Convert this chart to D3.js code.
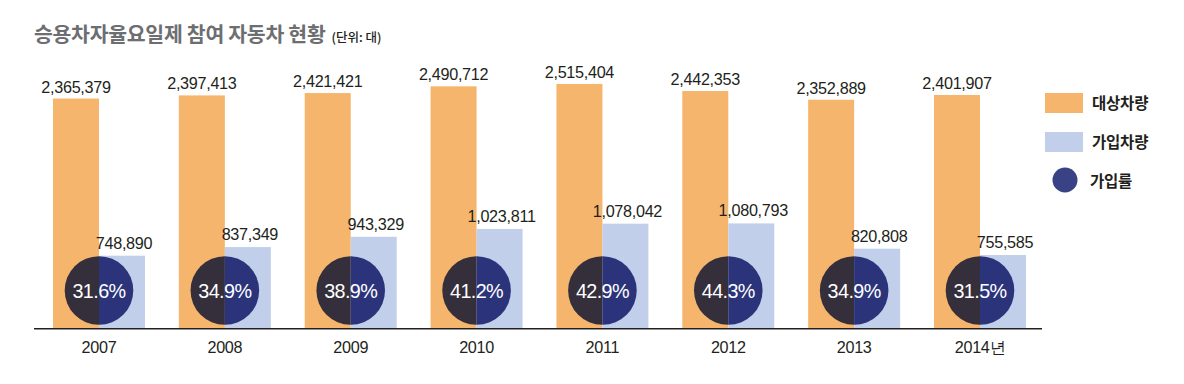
<!DOCTYPE html>
<html><head><meta charset="utf-8">
<script src="https://cdn.jsdelivr.net/npm/d3@7"></script>
<style>body{margin:0;background:#fff}svg{display:block}</style>
</head><body>
<svg id="c" width="1184" height="384"></svg>
<script>
const years = ["2007","2008","2009","2010","2011","2012","2013","2014"];
const yearLabels = ["2007","2008","2009","2010","2011","2012","2013","2014년"];
const targetVehicles = [2365379,2397413,2421421,2490712,2515404,2442353,2352889,2401907];
const joinedVehicles = [748890,837349,943329,1023811,1078042,1080793,820808,755585];
const joinRates = ["31.6%","34.9%","38.9%","41.2%","42.9%","44.3%","34.9%","31.5%"];
const seriesNames = ["대상차량","가입차량","가입률"];

const svg = d3.select("#c");
const numFont = "'Liberation Sans', Arial, sans-serif";
const krFont = "'Noto Sans CJK KR', sans-serif";
const C = {orange:"#f6b56c", blue:"#c2cfea", darkL:"#352e3b", darkR:"#2b347b", legendDot:"#3a4286", text:"#231f20"};

const x = d3.scalePoint().domain(years).range([99, 980]);
const sub = d3.scaleBand().domain(["t","j"]).range([-46, 46]).padding(0);
const y = d3.scaleLinear().domain([0, 2600000]).range([328.5, 75.7]);
const fmt = d3.format(",");

// title
const title = svg.append("text").attr("x",34).attr("y",42)
  .attr("font-family",krFont).attr("fill","#6d6e71");
title.append("tspan").attr("font-size",20.5).attr("font-weight",700).attr("letter-spacing",-0.3).text("승용차자율요일제 참여 자동차 현황");
title.append("tspan").attr("font-size",12.5).attr("font-weight",500).attr("dx",6).attr("fill","#231f20").text("(단위: 대)");

const g = svg.append("g");
years.forEach((yr,i)=>{
  const cx = x(yr);
  g.append("rect").attr("x",cx+sub("t")).attr("width",sub.bandwidth())
    .attr("y",y(targetVehicles[i])).attr("height",y(0)-y(targetVehicles[i])).attr("fill",C.orange);
  g.append("rect").attr("x",cx+sub("j")).attr("width",sub.bandwidth())
    .attr("y",y(joinedVehicles[i])).attr("height",y(0)-y(joinedVehicles[i])).attr("fill",C.blue);
  g.append("text").attr("x",cx+sub("t")+sub.bandwidth()/2).attr("y",y(targetVehicles[i])-6)
    .attr("text-anchor","middle").attr("font-family",numFont).attr("font-size",16.2).attr("letter-spacing",-0.3)
    .attr("fill",C.text).text(fmt(targetVehicles[i]));
  g.append("text").attr("x",cx+sub("j")+sub.bandwidth()/2+2).attr("y",y(joinedVehicles[i])-7)
    .attr("text-anchor","middle").attr("font-family",numFont).attr("font-size",16.2).attr("letter-spacing",-0.3)
    .attr("fill",C.text).text(fmt(joinedVehicles[i]));
  // circle halves
  const r = 34.3, cy = 290.5;
  const arc = d3.arc().innerRadius(0).outerRadius(r);
  g.append("path").attr("transform",`translate(${cx},${cy})`)
    .attr("d",arc({startAngle:Math.PI,endAngle:2*Math.PI})).attr("fill",C.darkL);
  g.append("path").attr("transform",`translate(${cx},${cy})`)
    .attr("d",arc({startAngle:0,endAngle:Math.PI})).attr("fill",C.darkR);
  g.append("text").attr("x",cx).attr("y",cy+7.5).attr("text-anchor","middle")
    .attr("font-family",numFont).attr("font-size",19.8).attr("letter-spacing",-0.6)
    .attr("fill","#fff").text(joinRates[i]);
  g.append("text").attr("x",cx).attr("y",352.5).attr("text-anchor","middle")
    .attr("font-family",numFont).attr("font-size",16.2).attr("letter-spacing",-0.3)
    .attr("fill",C.text).text(yearLabels[i]);
});

// baseline axis
svg.append("line").attr("x1",34).attr("x2",1042).attr("y1",328.8).attr("y2",328.8)
  .attr("stroke","#231f20").attr("stroke-width",1.5);

// legend
const lg = svg.append("g").attr("transform","translate(1045,93)");
lg.append("rect").attr("x",0).attr("y",0).attr("width",38).attr("height",20).attr("fill",C.orange);
lg.append("rect").attr("x",0).attr("y",39).attr("width",38).attr("height",20).attr("fill",C.blue);
lg.append("circle").attr("cx",20).attr("cy",87).attr("r",12.5).attr("fill",C.legendDot);
[[47,16],[47,55],[45,93.5]].forEach((p,i)=>{
  lg.append("text").attr("x",p[0]).attr("y",p[1]).attr("font-family",krFont).attr("font-weight",700)
    .attr("font-size",15.5).attr("letter-spacing",-0.2).attr("fill",C.text).text(seriesNames[i]);
});
</script>
</body></html>
